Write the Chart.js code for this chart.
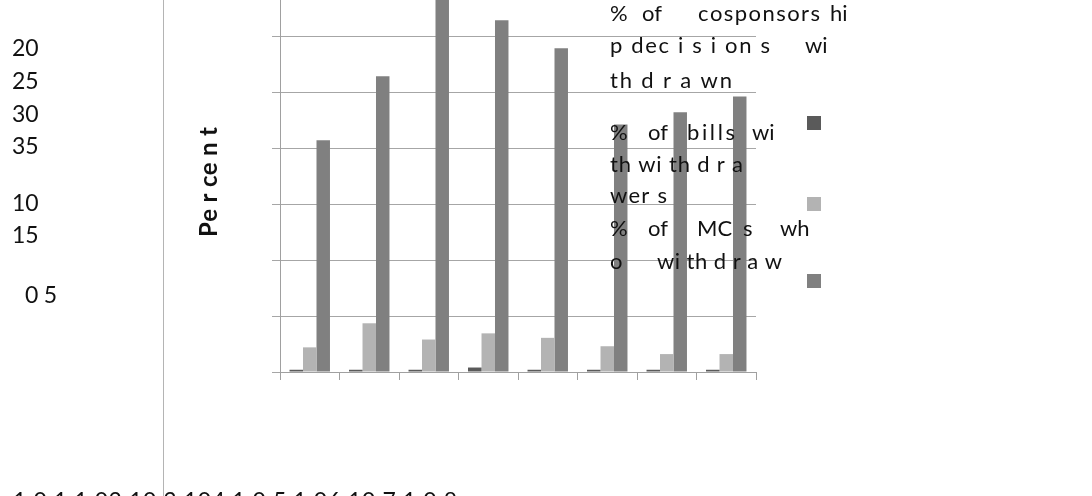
<!DOCTYPE html>
<html>
<head>
<meta charset="utf-8">
<script src="https://cdn.jsdelivr.net/npm/chart.js@4/dist/chart.umd.min.js"></script>
<style>
  html, body { margin: 0; padding: 0; background: #fff; overflow: hidden; }
  #wrap { position: absolute; left: 0; top: -30px; width: 1092px; height: 560px; }
</style>
</head>
<body>
<div id="wrap"><canvas id="c" width="1092" height="560"></canvas></div>
<script>
// Congress numbers (categories)
const congresses = ['101', '102', '103', '104', '105', '106', '107', '108'];

// Series values, in percent
const cosponsorshipWithdrawn = [0.2, 0.2, 0.2, 0.4, 0.2, 0.2, 0.2, 0.2];
const billsWithWithdrawers   = [2.2, 4.35, 2.9, 3.45, 3.05, 2.3, 1.6, 1.6];
const membersWhoWithdraw     = [20.7, 26.4, 34.0, 31.4, 28.9, 22.1, 23.2, 24.6];

// Y axis range and step
const yMin = 0, yMax = 35, yStep = 5;

// Legend entries, as they appear split across lines
const legendLines = [
  [['%', 610], ['of', 642], ['cosponsors', 698, 820], ['hi', 830]],
  [['p dec i s i on s', 610, 770], ['wi', 805]],
  [['th d r a wn', 610, 732]],
  [['%', 610], ['of', 648], ['bills', 687, 735], ['wi', 752]],
  [['th wi th d r a', 610, 743]],
  [['wer s', 610, 667]],
  [['%', 610], ['of', 648], ['MC', 697], ['s', 743], ['wh', 780]],
  [['o', 610], ['wi th d r a w', 657, 782]]
];
const legendBaselines = [21, 53, 88, 140, 172, 203, 236, 269];

const colors = ['#5a5a5a', '#b3b3b3', '#808080'];
const legendMarkerCenters = [123, 204, 281];

// Tick labels as laid out down the left side
const yTickLabels = [
  ['20', 12, 56], ['25', 12, 89], ['30', 12, 122], ['35', 12, 154],
  ['10', 12, 211], ['15', 12, 243], ['0 5', 25, 303]
];
const xLabelText = '1 0 1 1 02 10 3 104 1 0 5 1 06 10 7 1 0 8';

const OFF = 30; // canvas is shifted up by this many pixels
const FONT = 'Lato, "Open Sans", sans-serif';

// Draw text so that it spans from x0 to x1 by spreading the characters
function drawSpan(ctx, text, x0, x1, y) {
  if (x1 === undefined || text.length < 2) { ctx.fillText(text, x0, y); return; }
  const widths = [...text].map(ch => ctx.measureText(ch).width);
  const natural = widths.reduce((a, b) => a + b, 0);
  const extra = (x1 - x0 - natural) / (text.length - 1);
  let x = x0;
  [...text].forEach((ch, i) => { ctx.fillText(ch, x, y); x += widths[i] + extra; });
}

const annotations = {
  id: 'annotations',
  afterDraw(chart) {
    const ctx = chart.ctx;
    ctx.save();
    // thin vertical rule
    ctx.strokeStyle = '#b4b4b4';
    ctx.lineWidth = 1;
    ctx.beginPath();
    ctx.moveTo(163.5, 0);
    ctx.lineTo(163.5, 560);
    ctx.stroke();

    ctx.fillStyle = '#111';
    ctx.textBaseline = 'alphabetic';
    ctx.textAlign = 'left';

    // left tick labels
    ctx.font = '23px ' + FONT;
    yTickLabels.forEach(([t, x, y]) => {
      if (t === '0 5') drawSpan(ctx, t, x, 57, y + OFF);
      else ctx.fillText(t, x, y + OFF);
    });

    // category labels along the bottom
    drawSpan(ctx, xLabelText, 13, 457, 509 + OFF);

    // axis title
    ctx.save();
    ctx.font = 'bold 24px ' + FONT;
    ctx.translate(217, 237 + OFF);
    ctx.rotate(-Math.PI / 2);
    drawSpan(ctx, 'Pe r ce n t', 0, 110, 0);
    ctx.restore();

    // legend text
    ctx.font = '22px ' + FONT;
    legendLines.forEach((line, i) => {
      line.forEach(([t, x0, x1]) => drawSpan(ctx, t, x0, x1, legendBaselines[i] + OFF));
    });

    // legend markers
    legendMarkerCenters.forEach((cy, i) => {
      ctx.fillStyle = colors[i];
      ctx.fillRect(807, cy - 7 + OFF, 14, 14);
    });
    ctx.restore();
  }
};

new Chart(document.getElementById('c'), {
  type: 'bar',
  data: {
    labels: congresses,
    datasets: [
      { label: '% of cosponsorship decisions withdrawn', data: cosponsorshipWithdrawn, backgroundColor: colors[0] },
      { label: '% of bills with withdrawers', data: billsWithWithdrawers, backgroundColor: colors[1] },
      { label: '% of MCs who withdraw', data: membersWhoWithdraw, backgroundColor: colors[2] }
    ]
  },
  options: {
    responsive: false,
    animation: false,
    devicePixelRatio: 1,
    layout: { padding: { left: 272, right: 336, top: 10, bottom: 150 } },
    plugins: { legend: { display: false }, tooltip: { enabled: false } },
    datasets: { bar: { categoryPercentage: 0.68, barPercentage: 1.0 } },
    scales: {
      x: {
        grid: { drawOnChartArea: false, drawTicks: true, tickLength: 8, color: '#a0a0a0', offset: true },
        border: { color: '#a0a0a0' },
        ticks: { display: false }
      },
      y: {
        min: yMin, max: yMax,
        grid: { color: '#a6a6a6', tickLength: 8 },
        border: { color: '#a0a0a0' },
        ticks: { display: false, stepSize: yStep }
      }
    }
  },
  plugins: [annotations]
});
</script>
</body>
</html>
